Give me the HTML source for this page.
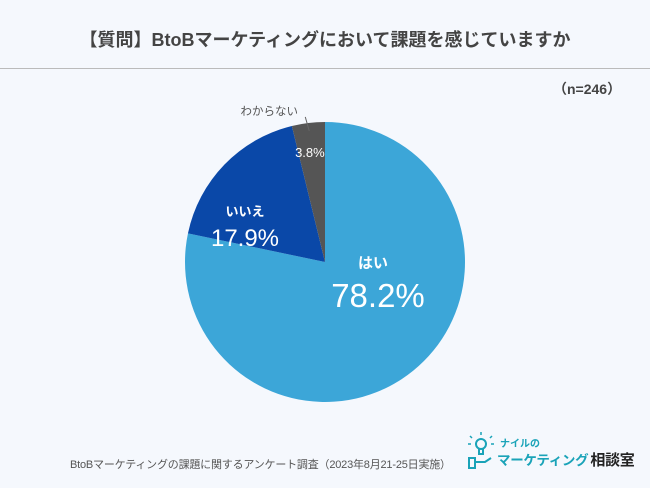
<!DOCTYPE html>
<html><head><meta charset="utf-8"><style>
body{margin:0;width:650px;height:488px;background:#f5f8fd;font-family:"Liberation Sans","Noto Sans CJK JP",sans-serif;overflow:hidden;position:relative}
.t{position:absolute;white-space:nowrap}
</style></head><body>
<div class="t" style="left:0;width:650px;top:26px;text-align:center;font-size:18px;font-weight:bold;color:#444">【質問】BtoBマーケティングにおいて課題を感じていますか</div>
<div style="position:absolute;left:0;top:68px;width:650px;height:1px;background:#bbb"></div>
<div class="t" style="left:553px;top:79px;font-size:14px;font-weight:bold;color:#444">（n=246）</div>
<svg id="pie" width="650" height="488" style="position:absolute;left:0;top:0"></svg>
<div class="t" style="left:70px;top:456px;font-size:11px;color:#555;letter-spacing:-0.2px">BtoBマーケティングの課題に関するアンケート調査（2023年8月21-25日実施）</div>
<svg width="30" height="40" style="position:absolute;left:466px;top:432px">
<circle cx="15" cy="12" r="5" fill="none" stroke="#1aa3b8" stroke-width="2"/><path d="M13 17v5h4v-5" stroke="#1aa3b8" fill="none" stroke-width="2"/>
<path d="M4 4l2 2M26 4l-2 2M2 12h3M25 12h3M15 0v3" stroke="#1aa3b8" stroke-width="1.5"/>
<path d="M3 26h6v10H3zM9 30h10l6-4" stroke="#1aa3b8" fill="none" stroke-width="2"/></svg>
<div class="t" style="left:500px;top:435px;font-size:10px;font-weight:bold;color:#1aa3b8">ナイルの</div>
<div class="t" style="left:497px;top:449px;font-size:13.5px;font-weight:bold;color:#1aa3b8;letter-spacing:-0.3px">マーケティング<span style="color:#222;font-size:15px;margin-left:2px">相談室</span></div>
<script>
const labels=["はい","いいえ","わからない"];
const values=[78.2,17.9,3.8];
const colors=["#3ca6d8","#0a48a8","#555555"];
const svg=document.getElementById('pie');
const NS="http://www.w3.org/2000/svg";
const cx=325,cy=262,r=140;
const total=values.reduce((a,b)=>a+b,0);
function pt(f,rr){const a=f*2*Math.PI-Math.PI/2;return [cx+rr*Math.cos(a),cy+rr*Math.sin(a)];}
function txt(x,y,s,size,fill,bold){const t=document.createElementNS(NS,'text');t.setAttribute('x',x);t.setAttribute('y',y);t.setAttribute('text-anchor','middle');t.setAttribute('font-size',size);t.setAttribute('fill',fill);if(bold)t.setAttribute('font-weight','bold');t.textContent=s;svg.appendChild(t);return t;}
let acc=0;
values.forEach((v,i)=>{
 const f0=acc/total,f1=(acc+v)/total;acc+=v;
 const [x0,y0]=pt(f0,r),[x1,y1]=pt(f1,r);
 const p=document.createElementNS(NS,'path');
 p.setAttribute('d',`M${cx},${cy}L${x0},${y0}A${r},${r} 0 ${f1-f0>0.5?1:0} 1 ${x1},${y1}Z`);
 p.setAttribute('fill',colors[i]);
 
 
 svg.appendChild(p);
 const mid=(f0+f1)/2;
 if(i==0){
  const a=txt(cx+48,cy+6,labels[i],15,'#fff',true);
  
  
  const b=txt(cx+53,cy+45,v.toFixed(1)+'%',33,'#fff',false);
  
  
 } else if(i==1){
  const a=txt(cx-80,cy-46,labels[i],13,'#fff',true);
  
  
  const b=txt(cx-80,cy-16,v.toFixed(1)+'%',24,'#fff',false);
  
  
 } else {
  const [lx,ly]=pt(mid,110);
  const b=txt(lx-2,ly+4,v.toFixed(1)+'%',13,'#fff',false);
  
  
  const [ex,ey]=pt(mid,r-8);
  const l=document.createElementNS(NS,'path');
  l.setAttribute('d',`M${ex},${ey}L${ex-4},${ey-14}`);
  l.setAttribute('stroke','#666');l.setAttribute('fill','none');
  
  
  svg.appendChild(l);
  const a=txt(ex-40,ey-16,labels[i],11.5,'#555',false);
  
  
 }
});
</script>
</body></html>
